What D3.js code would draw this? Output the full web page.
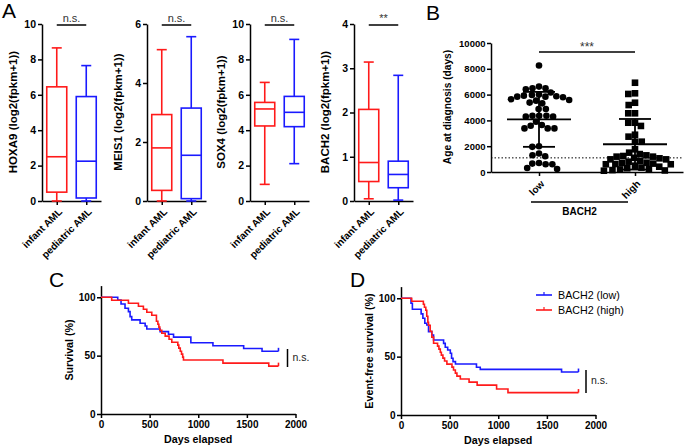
<!DOCTYPE html>
<html><head><meta charset="utf-8">
<script src="https://cdn.jsdelivr.net/npm/d3@7"></script>
<style>body{margin:0;background:#fff}svg{display:block}</style>
</head><body><svg id="c" width="685" height="446"></svg>
<script>
// ---------- DATA ----------
const genes = ["HOXA9","MEIS1","SOX4","BACH2"];
const groups = ["infant AML","pediatric AML"];
// [min, q1, median, q3, max]
const infantStats = [[0,0.5,2.5,6.45,8.65],[0,0.36,1.8,2.93,5.13],[0.94,4.24,5.2,5.57,6.7],[0.05,0.44,0.87,2.07,3.14]];
const pediatricStats = [[0,0.17,2.25,5.9,7.65],[0,0.08,1.55,3.15,5.57],[2.11,4.2,5.01,5.91,9.13],[0.02,0.3,0.6,0.9,2.84]];
const yMaxA = [10,6,10,4];
const yTicksA = [[0,2,4,6,8,10],[0,2,4,6],[0,2,4,6,8,10],[0,1,2,3,4]];
const sigA = ["n.s.","n.s.","n.s.","**"];

const bCats = ["low","high"];
const ageLow = [8260,6620,6490,6420,6490,6160,5970,5920,5840,5870,5790,5840,6000,5380,5320,5580,5530,5640,4880,4880,4360,4290,4290,4360,4360,3900,3580,3380,3380,3380,3640,2000,1950,1430,1300,1220,650,600,600,700,310,230];
const ageHigh = [6920,6100,6050,5190,5370,4550,4550,3820,3570,3820,2890,2740,2350,2350,1500,1760,1390,1240,1190,980,1100,980,1060,1190,1290,800,720,620,490,850,650,600,600,700,340,230,200,290,410,100,150,120];
const ageMean = [4080,2150];
const ageSD = [2130,1960];
const ageTicks = [0,2000,4000,6000,8000,10000];
const cutoffDays = 1095;

const osLow = [[0,100],[172,97.7],[206,94.3],[247,90.6],[282,87.7],[299,83.4],[316,80.6],[402,77.7],[454,75.4],[471,72.8],[608,70.6],[694,68.3],[746,65.9],[924,61.0],[1151,58.5],[1467,56.1],[1656,53.7],[1825,53.7]];
const osHigh = [[0,100],[110,97.4],[282,94.9],[385,92.3],[436,89.7],[471,87.2],[522,84.6],[570,79.5],[585,76.9],[595,74.4],[605,71.8],[625,69.2],[660,66.7],[700,64.1],[728,61.5],[790,59.0],[800,56.4],[815,53.8],[828,51.3],[840,48.7],[848,46.2],[1254,43.6],[1725,41.0],[1825,41.0]];
const efsLow = [[0,100],[103,95.7],[117,90.6],[207,86.6],[225,82.9],[245,78.6],[265,77.1],[283,71.4],[317,68.6],[335,64.3],[438,61.4],[455,58.0],[480,55.7],[507,52.9],[520,48.6],[535,45.7],[560,43.7],[776,40.9],[815,39.1],[1651,36.8],[1825,36.8]];
const efsHigh = [[0,100],[110,97.4],[230,94.9],[241,92.3],[255,89.7],[265,84.6],[276,79.5],[283,76.9],[300,71.8],[317,66.7],[335,61.5],[376,59.0],[390,56.4],[404,53.8],[415,51.3],[431,48.7],[448,46.2],[472,43.6],[524,41.0],[540,38.5],[559,35.9],[575,33.3],[610,30.8],[700,28.2],[783,25.6],[983,22.3],[1100,19.2],[1825,19.2]];
const kmXTicks = [0,500,1000,1500,2000];
const kmYTicks = [0,50,100];
const legendLabels = ["BACH2 (low)","BACH2 (high)"];

// ---------- DRAW ----------
const FONT = "'Liberation Sans', Arial, sans-serif";
const RED = "#ff1a1a", BLUE = "#1a1aff";
const svg = d3.select("#c");

function styleAxis(g, fs) {
  g.select(".domain").attr("stroke","#000").attr("stroke-width",1.5);
  g.selectAll(".tick line").attr("stroke","#000").attr("stroke-width",1.5);
  g.selectAll(".tick text").attr("font-family",FONT).attr("font-weight","bold")
    .attr("font-size",fs).attr("fill","#000");
}
function label(txt, x, y, opts={}) {
  const t = svg.append("text").attr("x",x).attr("y",y).text(txt)
    .attr("font-family",FONT).attr("font-size",opts.fs||10).attr("fill",opts.fill||"#000")
    .attr("font-weight",opts.bold?"bold":"normal").attr("text-anchor",opts.anchor||"start");
  if (opts.rot) t.attr("transform",`rotate(${opts.rot},${x},${y})`);
  return t;
}

// Panel letters
label("A",2,18,{fs:21}); label("B",426,20,{fs:21});
label("C",49,287,{fs:21}); label("D",350,287,{fs:21});

// ---- Panel A ----
const aX = [42,147,250,354];
genes.forEach((gene,i)=>{
  const x0 = aX[i];
  const y = d3.scaleLinear().domain([0,yMaxA[i]]).range([201,24]);
  const x = d3.scalePoint().domain(groups).range([x0,x0+59]).padding(0.5);
  const g = svg.append("g");
  const ya = g.append("g").attr("transform",`translate(${x0},0)`)
    .call(d3.axisLeft(y).tickValues(yTicksA[i]).tickSize(4).tickSizeOuter(0).tickPadding(2).tickFormat(d3.format("d")));
  styleAxis(ya,10.5);
  const xa = g.append("g").attr("transform","translate(0,201)")
    .call(d3.axisBottom(x).tickSize(4).tickSizeOuter(0));
  styleAxis(xa,10);
  xa.selectAll(".tick text").attr("x",0).attr("y",0).attr("dy","0.35em")
    .attr("text-anchor","end").attr("transform","translate(3,9) rotate(-45)");
  label(`${gene} (log2(fpkm+1))`, x0-25, 112, {fs:11.5,bold:true,anchor:"middle",rot:-90});
  [infantStats[i],pediatricStats[i]].forEach((s,j)=>{
    const cx = x(groups[j]), col = j? BLUE: RED, hw = 10;
    const bg = g.append("g").attr("stroke",col).attr("stroke-width",1.6).attr("fill","none");
    bg.append("line").attr("x1",cx).attr("x2",cx).attr("y1",y(s[0])).attr("y2",y(s[1]));
    bg.append("line").attr("x1",cx).attr("x2",cx).attr("y1",y(s[3])).attr("y2",y(s[4]));
    bg.append("line").attr("x1",cx-5).attr("x2",cx+5).attr("y1",y(s[0])).attr("y2",y(s[0]));
    bg.append("line").attr("x1",cx-5).attr("x2",cx+5).attr("y1",y(s[4])).attr("y2",y(s[4]));
    bg.append("rect").attr("x",cx-hw).attr("y",y(s[3])).attr("width",2*hw).attr("height",y(s[1])-y(s[3]));
    bg.append("line").attr("x1",cx-hw).attr("x2",cx+hw).attr("y1",y(s[2])).attr("y2",y(s[2]));
  });
  g.append("line").attr("x1",x(groups[0])).attr("x2",x(groups[1])).attr("y1",25).attr("y2",25)
    .attr("stroke","#000").attr("stroke-width",1.5);
  label(sigA[i], (x(groups[0])+x(groups[1]))/2, 21.5, {fs:11,anchor:"middle",fill:"#333"});
});

// ---- Panel B ----
const yB = d3.scaleLinear().domain([0,10000]).range([172,43]);
const xB = d3.scalePoint().domain(bCats).range([491,683]).padding(0.5);
const gB = svg.append("g");
const yaB = gB.append("g").attr("transform","translate(491,0)")
  .call(d3.axisLeft(yB).tickValues(ageTicks).tickSize(4).tickSizeOuter(0).tickPadding(1.5).tickFormat(d3.format("d")));
styleAxis(yaB,9.5);
const xaB = gB.append("g").attr("transform","translate(0,172)")
  .call(d3.axisBottom(xB).tickSize(4).tickSizeOuter(0));
styleAxis(xaB,10);
xaB.selectAll(".tick text").attr("x",0).attr("y",0).attr("dy","0.35em")
  .attr("text-anchor","end").attr("transform","translate(3,10) rotate(-45)");
label("Age at diagnosis (days)", 451, 107, {fs:10.2,bold:true,anchor:"middle",rot:-90});
gB.append("line").attr("x1",491).attr("x2",683).attr("y1",yB(cutoffDays)).attr("y2",yB(cutoffDays))
  .attr("stroke","#000").attr("stroke-width",1).attr("stroke-dasharray","1.5,2");

function swarm(values, cx, r) {
  const pts = values.map(v=>({v, y:yB(v)})).sort((a,b)=>a.y-b.y);
  const placed = [];
  const d = 2*r;
  pts.forEach(p=>{
    const ints = [];
    placed.forEach(q=>{
      const dy = Math.abs(q.y-p.y);
      if (dy < d) { const w = Math.sqrt(d*d-dy*dy); ints.push([q.dx-w,q.dx+w]); }
    });
    const cands = [0];
    ints.forEach(iv=>{cands.push(iv[0],iv[1]);});
    cands.sort((a,b)=>Math.abs(a)-Math.abs(b));
    let best = 0;
    for (const c of cands) {
      if (ints.every(iv=> c<=iv[0]+1e-6 || c>=iv[1]-1e-6)) { best = c; break; }
    }
    p.dx = best; placed.push(p);
  });
  return placed.map(p=>({x:cx+p.dx, y:p.y}));
}
const r = 3.3;
swarm(ageLow, xB("low"), r*1.02).forEach(p=>{
  gB.append("circle").attr("cx",p.x).attr("cy",p.y).attr("r",r).attr("fill","#000");
});
swarm(ageHigh, xB("high"), r*1.02).forEach(p=>{
  gB.append("rect").attr("x",p.x-r).attr("y",p.y-r).attr("width",2*r).attr("height",2*r).attr("fill","#000");
});
bCats.forEach((c,i)=>{
  const cx = xB(c), m = ageMean[i], s = ageSD[i];
  const e = gB.append("g").attr("stroke","#000").attr("stroke-width",1.8);
  e.append("line").attr("x1",cx-32).attr("x2",cx+32).attr("y1",yB(m)).attr("y2",yB(m));
  e.append("line").attr("x1",cx).attr("x2",cx).attr("y1",yB(m+s)).attr("y2",yB(Math.max(m-s,0)));
  e.append("line").attr("x1",cx-16).attr("x2",cx+16).attr("y1",yB(m+s)).attr("y2",yB(m+s));
  e.append("line").attr("x1",cx-16).attr("x2",cx+16).attr("y1",yB(Math.max(m-s,0))).attr("y2",yB(Math.max(m-s,0)));
});
gB.append("line").attr("x1",xB("low")).attr("x2",xB("high")).attr("y1",52).attr("y2",52)
  .attr("stroke","#000").attr("stroke-width",1.5);
label("***", (xB("low")+xB("high"))/2, 51, {fs:12,anchor:"middle",fill:"#333"});
gB.append("line").attr("x1",531).attr("x2",628).attr("y1",202).attr("y2",202).attr("stroke","#000").attr("stroke-width",1.5);
label("BACH2", 579.5, 215, {fs:10,bold:true,anchor:"middle"});

// ---- KM panels ----
function km(x0, yBase, yLabel, low, high, legend, ns) {
  const x = d3.scaleLinear().domain([0,2000]).range([x0, x0+194.5]);
  const y = d3.scaleLinear().domain([0,110]).range([yBase, yBase-128.4]);
  const g = svg.append("g");
  const ya = g.append("g").attr("transform",`translate(${x0},0)`)
    .call(d3.axisLeft(y).tickValues(kmYTicks).tickSize(4).tickSizeOuter(0).tickPadding(1.5).tickFormat(d3.format("d")));
  styleAxis(ya,10);
  const xa = g.append("g").attr("transform",`translate(0,${yBase})`)
    .call(d3.axisBottom(x).tickValues(kmXTicks).tickSize(4).tickSizeOuter(0).tickPadding(3).tickFormat(d3.format("d")));
  styleAxis(xa,10);
  label("Days elapsed", x(1000), yBase+29, {fs:10.7,bold:true,anchor:"middle"});
  label(yLabel, x0-28, yBase-64, {fs:10.7,bold:true,anchor:"middle",rot:-90});
  const line = d3.line().x(d=>x(d[0])).y(d=>y(d[1])).curve(d3.curveStepAfter);
  [[low,BLUE],[high,RED]].forEach(([data,col])=>{
    g.append("path").datum(data).attr("d",line).attr("fill","none").attr("stroke",col).attr("stroke-width",1.6);
    const last = data[data.length-1];
    g.append("line").attr("x1",x(last[0])).attr("x2",x(last[0])).attr("y1",y(last[1])).attr("y2",y(last[1])-3.5)
      .attr("stroke",col).attr("stroke-width",1.6);
  });
  g.append("line").attr("x1",ns[0]).attr("x2",ns[0]).attr("y1",ns[1]).attr("y2",ns[2]).attr("stroke","#000").attr("stroke-width",1.5);
  label("n.s.", ns[0]+5, ns[3], {fs:10.5,fill:"#222"});
  if (legend) {
    [[BLUE,legendLabels[0],295],[RED,legendLabels[1],310]].forEach(([col,t,ly])=>{
      g.append("line").attr("x1",536).attr("x2",552).attr("y1",ly).attr("y2",ly).attr("stroke",col).attr("stroke-width",1.6);
      g.append("line").attr("x1",544).attr("x2",544).attr("y1",ly).attr("y2",ly-3).attr("stroke",col).attr("stroke-width",1.2);
      label(t, 558, ly+4, {fs:10.7});
    });
  }
}
km(101, 414, "Survival (%)", osLow, osHigh, false, [287.5,349,367,361]);
km(401, 415, "Event-free survival (%)", efsLow, efsHigh, true, [586,370,393,384]);
</script></body></html>
